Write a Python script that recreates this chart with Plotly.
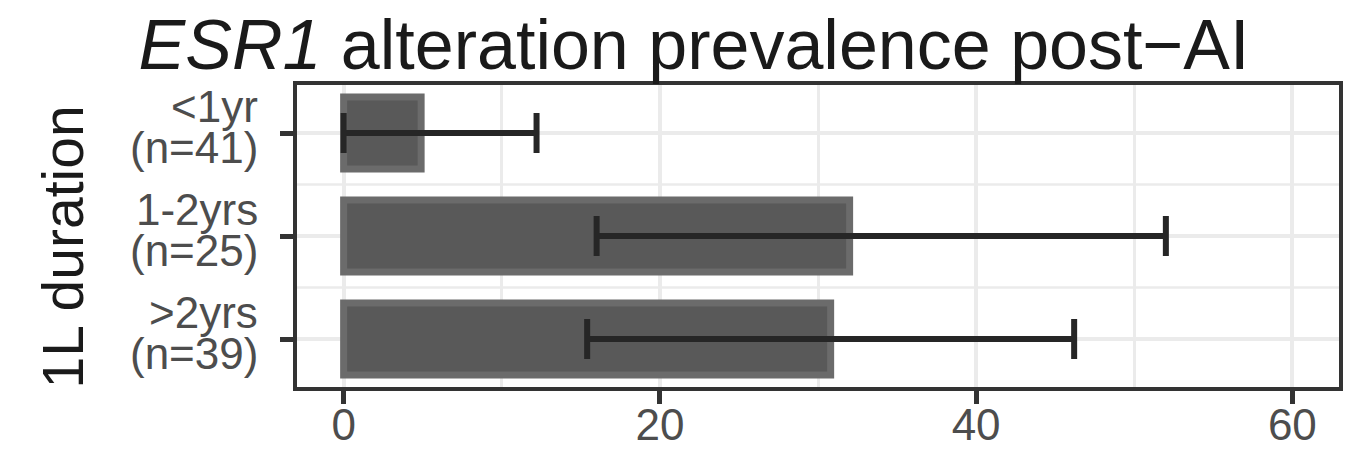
import plotly.graph_objects as go

# ---- data ----
categories = ["<1yr", "1-2yrs", ">2yrs"]
n_labels = ["(n=41)", "(n=25)", "(n=39)"]
prevalence = [4.9, 32.0, 30.8]
ci_low = [0.0, 16.0, 15.4]
ci_high = [12.2, 52.0, 46.2]
x_ticks = [0, 20, 40, 60]
x_minor = [10, 30, 50]

FONT = "Liberation Sans, Arial, Helvetica, sans-serif"
# the page body has an 8px margin, so the figure is 16px smaller than the window
W, H = 1350, 447
ML, MR, MT, MB = 289, 19, 77, 68
PW, PH = W - ML - MR, H - MT - MB

err_plus = [h - v for h, v in zip(ci_high, prevalence)]
err_minus = [v - l for v, l in zip(prevalence, ci_low)]

fig = go.Figure()
fig.add_trace(go.Bar(
    y=categories, x=prevalence, orientation="h", width=0.7,
    marker=dict(color="#595959", line=dict(color="#6b6b6b", width=7)),
    error_x=dict(type="data", symmetric=False, array=err_plus, arrayminus=err_minus,
                 color="#262626", thickness=6, width=20),
    showlegend=False, hoverinfo="skip",
))

# minor horizontal grid lines between categories
shapes = []
for yb in [0.5, 1.5]:
    shapes.append(dict(type="line", xref="paper", x0=0, x1=1, yref="y", y0=yb, y1=yb,
                       line=dict(color="#ebebeb", width=2.5), layer="below"))

# y tick labels (two lines each, ggplot-like tight line spacing)
ann = []
lab_x = -37 / PW
for c, n in zip(categories, n_labels):
    ann.append(dict(text=c, xref="paper", x=lab_x, yref="y", y=c, xanchor="right",
                    yanchor="middle", yshift=27, showarrow=False,
                    font=dict(family=FONT, size=44, color="#4d4d4d")))
    ann.append(dict(text=n, xref="paper", x=lab_x, yref="y", y=c, xanchor="right",
                    yanchor="middle", yshift=-14, showarrow=False,
                    font=dict(family=FONT, size=44, color="#4d4d4d")))
# y axis title
ann.append(dict(text="1L duration", textangle=-90, xref="paper", x=-234.5 / PW,
                yref="paper", y=0.5 - 11 / PH, xanchor="center", yanchor="middle",
                showarrow=False, font=dict(family=FONT, size=57, color="#1a1a1a")))

fig.update_layout(
    template="none",
    width=W, height=H,
    margin=dict(l=ML, r=MR, t=MT, b=MB, pad=0, autoexpand=False),
    paper_bgcolor="white", plot_bgcolor="white",
    title=dict(text="<i>ESR1</i> alteration prevalence post\u2212AI",
               x=686 / W, xanchor="center", xref="container",
               y=1 - 36 / H, yanchor="middle", yref="container",
               font=dict(family=FONT, size=70, color="#1a1a1a")),
    xaxis=dict(range=[-2.95, 62.95], tickvals=x_ticks, ticktext=[str(t) for t in x_ticks],
               automargin=False,
               ticks="outside", ticklen=13, tickwidth=5, tickcolor="#333333",
               tickfont=dict(family=FONT, size=44, color="#4d4d4d"), ticklabelstandoff=-17,
               showgrid=True, gridcolor="#ebebeb", gridwidth=4, zeroline=False,
               showline=True, mirror=True, linecolor="#333333", linewidth=3.5,
               minor=dict(tickvals=x_minor, showgrid=True, gridcolor="#ebebeb",
                          gridwidth=2.5, ticks="")),
    yaxis=dict(type="category", categoryorder="array", categoryarray=categories,
               automargin=False,
               range=[2.466, -0.466], ticks="outside", ticklen=13, tickwidth=5,
               tickcolor="#333333", showticklabels=False,
               showgrid=True, gridcolor="#ebebeb", gridwidth=4, zeroline=False,
               showline=True, mirror=True, linecolor="#333333", linewidth=3.5),
    shapes=shapes, annotations=ann,
)

fig.write_html("out.html")
